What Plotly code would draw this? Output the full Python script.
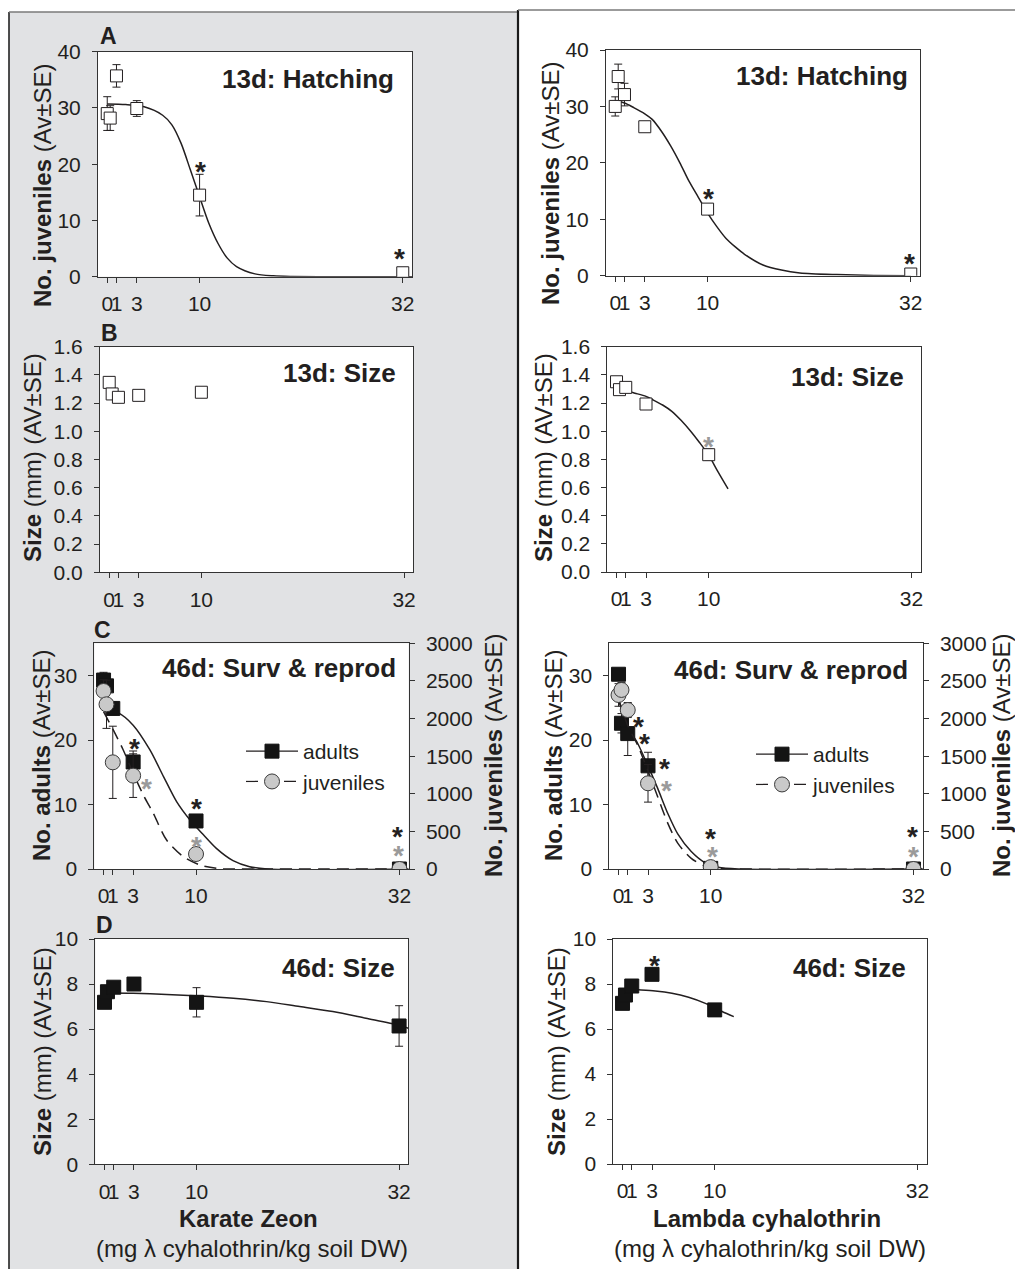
import plotly.graph_objects as go

W, H = 1015, 1269
FONT = "Liberation Sans"
INK = "#231f20"
GREY_STAR = "#9a9a9a"

# ---------------- data ----------------
conc = [0, 0.32, 1, 3.2, 10, 32]
conc5 = [0, 0.32, 1, 3.2, 10]
tick_vals = [0, 1, 3.2, 10, 32]
tick_text = ["0", "1", "3", "10", "32"]
yticks_A = [0, 10, 20, 30, 40]
yticks_B = [0, 0.2, 0.4, 0.6, 0.8, 1.0, 1.2, 1.4, 1.6]
yticks_C = [0, 10, 20, 30]
yticks_C2 = [0, 500, 1000, 1500, 2000, 2500, 3000]
yticks_D = [0, 2, 4, 6, 8, 10]

# A: 13d hatching (number of juveniles)
hatch_kz = [29.0, 28.2, 35.7, 29.9, 14.5, 0.7]
hatch_kz_se = [3.0, 2.2, 2.0, 1.4, 3.7, 0.3]
hatch_lc = [30.0, 35.3, 32.1, 26.4, 11.8, 0.3]
hatch_lc_se = [1.7, 2.2, 2.0, 0.8, 0.6, 0.1]
fitA_kz_x = [0, 2, 4, 6, 7, 8, 9, 10, 11, 12, 13, 14, 16, 18, 20, 25, 33]
fitA_kz_y = [30.7, 30.6, 30.2, 28.7, 27.0, 23.7, 19.0, 14.2, 9.5, 5.9, 3.3, 1.8, 0.5, 0.15, 0.05, 0.0, 0.0]
fitA_lc_x = [0, 1, 2, 3.2, 4, 5, 6, 7, 8, 9, 10, 11, 12, 13, 14, 16, 18, 20, 24, 28, 32]
fitA_lc_y = [31.0, 30.6, 29.8, 28.7, 27.7, 25.6, 23.0, 20.0, 16.7, 13.9, 11.1, 8.7, 6.6, 5.1, 3.8, 1.9, 1.0, 0.5, 0.2, 0.05, 0.0]

# B: 13d size (mm)
size13_kz = [1.347, 1.265, 1.241, 1.255, 1.277]
size13_lc = [1.351, 1.295, 1.311, 1.193, 0.833]
size13_lc_se = [0.01, 0.01, 0.01, 0.01, 0.04]
fitB_lc_x = [0, 1, 2, 3.2, 4, 5, 6, 7, 8, 9, 10, 11, 12.1]
fitB_lc_y = [1.297, 1.288, 1.270, 1.247, 1.221, 1.186, 1.141, 1.077, 1.003, 0.92, 0.83, 0.713, 0.59]

# C: 46d survival (adults) & reproduction (juveniles)
adults_kz = [29.3, 28.4, 24.9, 16.6, 7.45, 0.0]
adults_kz_se = [1.2, 0.8, 1.0, 1.7, 0.5, 0.0]
juv_kz = [2366, 2189, 1418, 1241, 199, 0]
juv_kz_se = [150, 320, 480, 290, 40, 0]
adults_lc = [30.2, 22.6, 21.0, 16.0, 0.1, 0.0]
adults_lc_se = [0.5, 1.5, 3.4, 2.1, 0.1, 0.0]
juv_lc = [2313, 2380, 2113, 1139, 25, 0]
juv_lc_se = [150, 100, 100, 250, 20, 0]
fitC_ad_kz_x = [0, 1.6, 3.2, 5.0, 6.5, 7.9, 9.35, 10.8, 12.2, 14.0, 15.8, 17.7, 33]
fitC_ad_kz_y = [24.7, 24.2, 22.3, 18.5, 14.3, 10.45, 7.6, 5.3, 3.2, 1.3, 0.36, 0.0, 0.0]
fitC_jv_kz_x = [0, 1.05, 2.13, 3.21, 4.3, 5.38, 6.82, 8.63, 10.43, 12.6, 14.8, 33]
fitC_jv_kz_y = [2091, 1848, 1582, 1272, 984, 740, 385, 164, 53, 4, 0, 0]
fitC_ad_lc_x = [0, 0.98, 2.07, 3.16, 4.25, 5.35, 6.44, 7.89, 9.35, 10.8, 13, 33]
fitC_ad_lc_y = [26.2, 22.1, 19.5, 16.1, 12.5, 8.6, 5.4, 2.7, 1.0, 0.26, 0.0, 0.0]
fitC_jv_lc_x = [0, 0.98, 2.07, 3.16, 4.25, 5.35, 6.44, 7.89, 9.35, 10.8, 13, 33]
fitC_jv_lc_y = [2268, 1914, 1648, 1316, 961, 607, 341, 142, 40, 9, 0, 0]

# D: 46d size (mm)
size46_kz = [7.19, 7.66, 7.86, 8.0, 7.19, 6.14]
size46_kz_se = [0.15, 0.15, 0.12, 0.15, 0.65, 0.9]
size46_lc = [7.14, 7.51, 7.91, 8.43, 6.85]
size46_lc_se = [0.1, 0.1, 0.1, 0.1, 0.1]
fitD_kz_x = [0.3, 3.1, 6.75, 10.4, 14.0, 17.6, 21.2, 24.8, 28.4, 31.9, 33]
fitD_kz_y = [7.6, 7.59, 7.54, 7.47, 7.37, 7.22, 7.0, 6.78, 6.48, 6.18, 6.04]
fitD_lc_x = [0.29, 1.74, 3.55, 5.36, 7.17, 8.99, 10.8, 12.07]
fitD_lc_y = [7.77, 7.74, 7.69, 7.59, 7.41, 7.14, 6.78, 6.55]

# significance asterisks (x, y in data units of each panel)
starA_kz = ([10.15, 31.6], [19.9, 4.4])
starA_lc = ([10.1, 31.9], [14.9, 3.4])
starB_lc_grey = ([10.0], [0.94])
starC_kz_black = ([3.4, 10.07, 31.8], [19.8, 10.45, 6.06])
starC_kz_grey = ([4.67, 10.07, 31.95], [1160, 395, 275])
starC_lc_black = ([2.15, 2.8, 4.97, 10.03, 31.87], [23.2, 20.5, 16.7, 5.8, 6.06])
starC_lc_grey = ([5.18, 10.2, 31.98], [1139, 262, 262])
starD_lc = ([3.45], [9.14])

# ---------------- layout geometry (pixels) ----------------
boxes = {
    1: (98, 51.7, 412, 276.7),      # A left
    2: (606, 50, 920, 275.7),       # A right
    3: (100, 346.7, 413.3, 572.3),  # B left
    4: (607.3, 346.7, 920.7, 572),  # B right
    5: (94.3, 643.3, 408.7, 869),   # C left
    6: (609.3, 643.3, 922.7, 869),  # C right
    7: (95.3, 939, 408.3, 1164.3),  # D left
    8: (613.3, 939, 926.7, 1164),   # D right
}


def px(x):
    return x / W


def py(y):
    return 1 - y / H


fig = go.Figure()


def axn(k, letter):
    return letter + ("" if k == 1 else str(k))


def add(trace, k, yk=None):
    trace.update(xaxis=axn(k, "x"), yaxis=axn(yk or k, "y"))
    if trace.showlegend is None:
        trace.update(showlegend=False)
    fig.add_trace(trace)


def errs(arr):
    return dict(type="data", array=arr, visible=True, color=INK, thickness=1, width=4)


def curve(x, y, k, yk=None, dash="solid"):
    add(go.Scatter(x=x, y=y, mode="lines", line=dict(color=INK, width=1.5, dash=dash, shape="spline", smoothing=0.8),
                   hoverinfo="skip"), k, yk)


open_sq = dict(symbol="square", size=12, color="white", line=dict(color=INK, width=1))
fill_sq = dict(symbol="square", size=14, color="#141414", line=dict(color="#141414", width=1))
grey_ci = dict(symbol="circle", size=15, color="#c9c9c9", line=dict(color="#3a3a3a", width=1))

# A
curve(fitA_kz_x, fitA_kz_y, 1)
add(go.Scatter(x=conc, y=hatch_kz, mode="markers", marker=open_sq, error_y=errs(hatch_kz_se)), 1)
curve(fitA_lc_x, fitA_lc_y, 2)
add(go.Scatter(x=conc, y=hatch_lc, mode="markers", marker=open_sq, error_y=errs(hatch_lc_se)), 2)
# B
add(go.Scatter(x=conc5, y=size13_kz, mode="markers", marker=open_sq), 3)
curve(fitB_lc_x, fitB_lc_y, 4)
add(go.Scatter(x=conc5, y=size13_lc, mode="markers", marker=open_sq, error_y=errs(size13_lc_se)), 4)
# C
curve(fitC_ad_kz_x, fitC_ad_kz_y, 5)
add(go.Scatter(x=conc, y=adults_kz, mode="markers", marker=fill_sq, error_y=errs(adults_kz_se)), 5)
curve(fitC_jv_kz_x, fitC_jv_kz_y, 5, 9, dash="12px,7px")
add(go.Scatter(x=conc, y=juv_kz, mode="markers", marker=grey_ci, error_y=errs(juv_kz_se)), 5, 9)
curve(fitC_ad_lc_x, fitC_ad_lc_y, 6)
add(go.Scatter(x=conc, y=adults_lc, mode="markers", marker=fill_sq, error_y=errs(adults_lc_se)), 6)
curve(fitC_jv_lc_x, fitC_jv_lc_y, 6, 10, dash="12px,7px")
add(go.Scatter(x=conc, y=juv_lc, mode="markers", marker=grey_ci, error_y=errs(juv_lc_se)), 6, 10)
# D
curve(fitD_kz_x, fitD_kz_y, 7)
add(go.Scatter(x=conc, y=size46_kz, mode="markers", marker=fill_sq, error_y=errs(size46_kz_se)), 7)
curve(fitD_lc_x, fitD_lc_y, 8)
add(go.Scatter(x=conc5, y=size46_lc, mode="markers", marker=fill_sq, error_y=errs(size46_lc_se)), 8)

# legend entries
for k, lg in ((5, "legend"), (6, "legend2")):
    add(go.Scatter(x=[None], y=[None], mode="lines+markers", name="adults", legend=lg, showlegend=True,
                   line=dict(color=INK, width=1.2), marker=fill_sq), k)
    add(go.Scatter(x=[None], y=[None], mode="lines+markers", name="juveniles", legend=lg, showlegend=True,
                   line=dict(color=INK, width=1.2, dash="12px,7px"), marker=grey_ci), k)

# ---------------- axes ----------------
tickfont = dict(family=FONT, size=21, color=INK)
common = dict(showline=True, linecolor="#333333", linewidth=1, ticks="outside", ticklen=5, tickwidth=1,
              tickcolor="#333333", showgrid=False, zeroline=False, tickfont=tickfont, fixedrange=True,
              automargin=False)
yt = {1: yticks_A, 2: yticks_A, 3: yticks_B, 4: yticks_B, 5: yticks_C, 6: yticks_C, 7: yticks_D, 8: yticks_D}
yr = {1: [0, 40], 2: [0, 40], 3: [0, 1.6], 4: [0, 1.6], 5: [0, 35], 6: [0, 35], 7: [0, 10], 8: [0, 10]}
lay = {}
for k, (x0, y0, x1, y1) in boxes.items():
    lay[axn(k, "xaxis")] = dict(common, domain=[px(x0), px(x1)], anchor=axn(k, "y"), range=[-1, 33],
                                tickvals=tick_vals, ticktext=tick_text, tickangle=0, mirror=True,
                                ticklabelstandoff=3)
    yd = dict(common, domain=[py(y1), py(y0)], anchor=axn(k, "x"), range=yr[k], tickvals=yt[k], mirror=True,
              ticklabelstandoff=7)
    if k in (3, 4):
        yd["tickformat"] = ".1f"
    lay[axn(k, "yaxis")] = yd
for k, base in ((9, 5), (10, 6)):
    lay[axn(k, "yaxis")] = dict(common, overlaying=axn(base, "y"), anchor=axn(base, "x"), side="right",
                                range=[0, 3000], tickvals=yticks_C2, ticklabelstandoff=7)

# ---------------- background frame shapes ----------------
shapes = [
    dict(type="rect", xref="paper", yref="paper", x0=px(9), x1=px(518), y0=0, y1=py(12),
         fillcolor="#e1e2e4", line=dict(width=0), layer="below"),
]
for k, (x0, y0, x1, y1) in boxes.items():
    shapes.append(dict(type="rect", xref="paper", yref="paper", x0=px(x0), x1=px(x1), y0=py(y1), y1=py(y0),
                       fillcolor="white", line=dict(width=0), layer="below"))
shapes += [
    dict(type="line", xref="paper", yref="paper", x0=px(9), x1=px(9), y0=0, y1=py(12),
         line=dict(color="#222222", width=1.6)),
    dict(type="line", xref="paper", yref="paper", x0=px(9), x1=px(518), y0=py(12), y1=py(12),
         line=dict(color="#7a7a7a", width=1.6)),
    dict(type="line", xref="paper", yref="paper", x0=px(518), x1=px(518), y0=0, y1=py(10),
         line=dict(color="#1a1a1a", width=2.2)),
    dict(type="line", xref="paper", yref="paper", x0=px(518), x1=1, y0=py(10), y1=py(10),
         line=dict(color="#7a7a7a", width=1.6)),
]

# ---------------- text annotations ----------------
ann = []


def text(x, y, s, size, xanchor="center", angle=0, color=INK):
    ann.append(dict(xref="paper", yref="paper", x=px(x), y=py(y), text=s, showarrow=False, xanchor=xanchor,
                    yanchor="middle", textangle=angle, font=dict(family=FONT, size=size, color=color)))


# panel titles
text(396, 79, "<b>13d: Hatching</b>", 26, "right")
text(910, 76, "<b>13d: Hatching</b>", 26, "right")
text(398.3, 373, "<b>13d: Size</b>", 26, "right")
text(906, 377, "<b>13d: Size</b>", 26, "right")
text(398, 667.5, "<b>46d: Surv &amp; reprod</b>", 26, "right")
text(910, 670, "<b>46d: Surv &amp; reprod</b>", 26, "right")
text(396.7, 967.5, "<b>46d: Size</b>", 26, "right")
text(908, 968, "<b>46d: Size</b>", 26, "right")
# panel letters
text(108, 36, "<b>A</b>", 23)
text(109, 333, "<b>B</b>", 23)
text(102, 630, "<b>C</b>", 23)
text(104, 925, "<b>D</b>", 23)
# axis titles
text(42, 186, "<b>No. juveniles</b> (Av±SE)", 24, angle=-90)
text(551, 184, "<b>No. juveniles</b> (Av±SE)", 24, angle=-90)
text(32, 458, "<b>Size</b> (mm) (AV±SE)", 24, angle=-90)
text(543, 458, "<b>Size</b> (mm) (AV±SE)", 24, angle=-90)
text(41, 756, "<b>No. adults</b> (Av±SE)", 24, angle=-90)
text(553, 756, "<b>No. adults</b> (Av±SE)", 24, angle=-90)
text(493, 756, "<b>No. juveniles</b> (Av±SE)", 24, angle=-90)
text(1001, 756, "<b>No. juveniles</b> (Av±SE)", 24, angle=-90)
text(42, 1052, "<b>Size</b> (mm) (AV±SE)", 24, angle=-90)
text(556, 1052, "<b>Size</b> (mm) (AV±SE)", 24, angle=-90)
text(248.3, 1218, "<b>Karate Zeon</b>", 24)
text(251.7, 1248, "(mg λ cyhalothrin/kg soil DW)", 24)
text(766.7, 1218, "<b>Lambda cyhalothrin</b>", 24)
text(770, 1248, "(mg λ cyhalothrin/kg soil DW)", 24)


def stars(pos, xk, yk=None, color=INK):
    for x, y in zip(*pos):
        ann.append(dict(xref=axn(xk, "x"), yref=axn(yk or xk, "y"), x=x, y=y, text="<b>*</b>", showarrow=False,
                        xanchor="center", yanchor="middle", yshift=-7,
                        font=dict(family=FONT, size=28, color=color)))


stars(starA_kz, 1)
stars(starA_lc, 2)
stars(starB_lc_grey, 4, color=GREY_STAR)
stars(starC_kz_black, 5)
stars(starC_kz_grey, 5, 9, color=GREY_STAR)
stars(starC_lc_black, 6)
stars(starC_lc_grey, 6, 10, color=GREY_STAR)
stars(starD_lc, 8)

legend_common = dict(xanchor="left", yanchor="top", bgcolor="rgba(0,0,0,0)", borderwidth=0,
                     font=dict(family=FONT, size=21, color=INK), itemwidth=52, tracegroupgap=0)

fig.update_layout(
    width=W, height=H, margin=dict(l=0, r=0, t=0, b=0, autoexpand=False), autosize=False,
    paper_bgcolor="white", plot_bgcolor="white",
    shapes=shapes, annotations=ann,
    legend=dict(legend_common, x=px(241), y=py(731)),
    legend2=dict(legend_common, x=px(751), y=py(734)),
    **lay,
)

fig.write_html("out.html", config={"responsive": False, "displayModeBar": False},
               post_script="document.body.style.margin='0px'; document.body.style.overflow='hidden';")
